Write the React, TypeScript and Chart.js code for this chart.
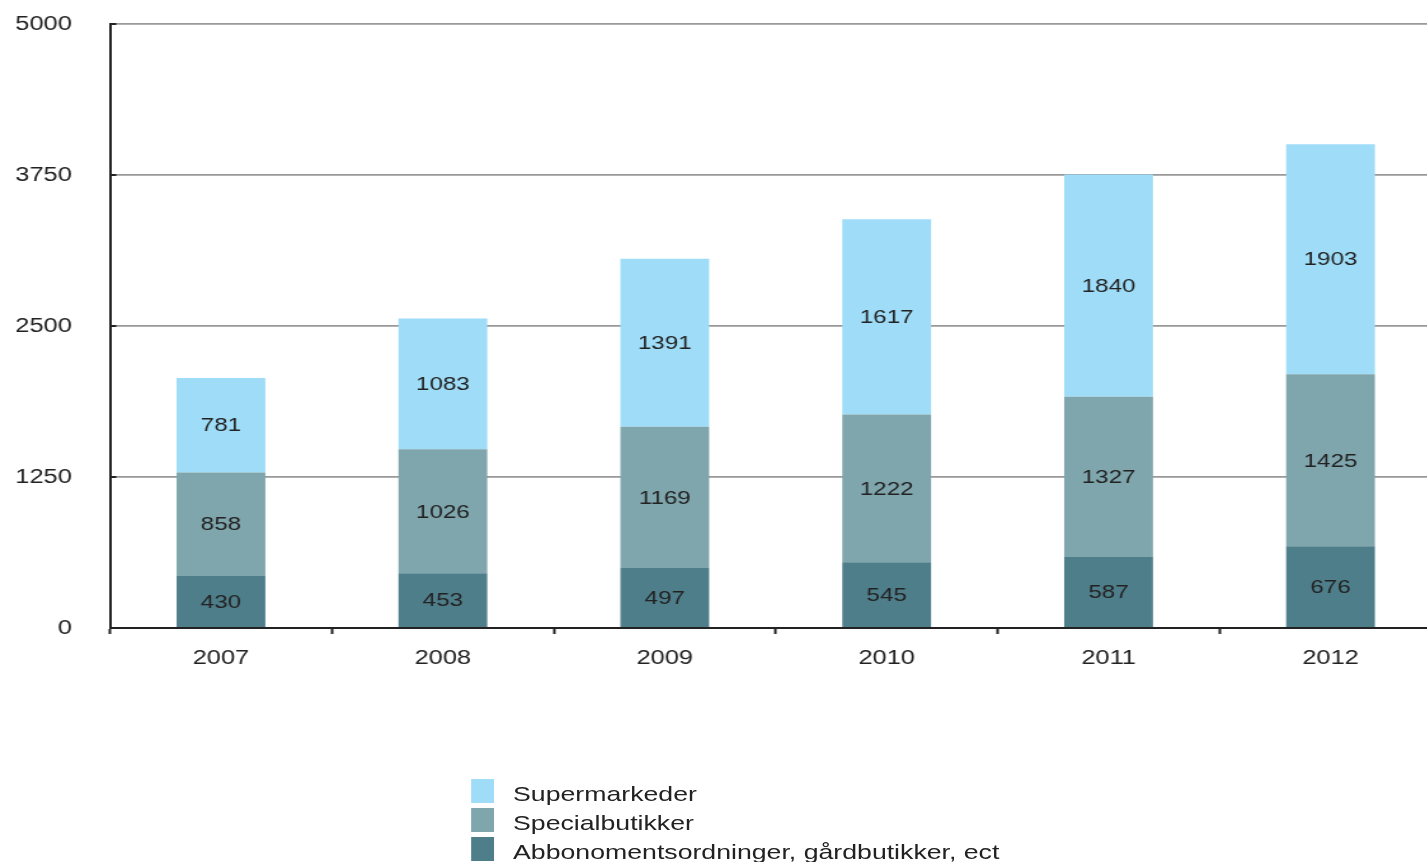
import React, { useEffect, useRef } from 'react';
import { Chart, registerables } from 'chart.js';

Chart.register(...registerables);

// ---- data ----
const categories = ['2007', '2008', '2009', '2010', '2011', '2012'];
const abonnementValues = [430, 453, 497, 545, 587, 676];
const specialValues = [858, 1026, 1169, 1222, 1327, 1425];
const supermarkedValues = [781, 1083, 1391, 1617, 1840, 1903];
const seriesNames = ['Abbonomentsordninger, gårdbutikker, ect', 'Specialbutikker', 'Supermarkeder'];
const seriesColors = ['#4f7e8b', '#7fa5ad', '#9edcf7'];
const yMin = 0;
const yMax = 5000;
const yStep = 1250;

// ---- layout (logical canvas is stretched horizontally like the reference) ----
const STRETCH = 1.27;
const CANVAS_W = 1135;
const CANVAS_H = 862;
const FONT = '"Liberation Sans", Arial, Helvetica, sans-serif';

const valueLabels = {
  id: 'valueLabels',
  afterDatasetsDraw(chart: any) {
    const ctx = chart.ctx;
    ctx.save();
    ctx.font = `19px ${FONT}`;
    ctx.fillStyle = '#222';
    ctx.textAlign = 'center';
    ctx.textBaseline = 'middle';
    chart.data.datasets.forEach((ds: any, i: number) => {
      const meta = chart.getDatasetMeta(i);
      meta.data.forEach((el: any, j: number) => {
        const { x, y, base } = el.getProps(['x', 'y', 'base'], true);
        ctx.fillText(String(ds.data[j]), x, (y + base) / 2 + 1);
      });
    });
    ctx.restore();
  },
};

const inwardTicks = {
  id: 'inwardTicks',
  afterDraw(chart: any) {
    const ys = chart.scales.y;
    const ctx = chart.ctx;
    ctx.save();
    ctx.strokeStyle = '#222';
    ctx.lineWidth = 2;
    ys.ticks.forEach((t: any) => {
      const py = ys.getPixelForValue(t.value);
      ctx.beginPath();
      ctx.moveTo(chart.chartArea.left, py);
      ctx.lineTo(chart.chartArea.left + 5, py);
      ctx.stroke();
    });
    ctx.restore();
  },
};

export default function App() {
  const ref = useRef<HTMLCanvasElement | null>(null);

  useEffect(() => {
    if (!ref.current) return;
    const seriesValues = [abonnementValues, specialValues, supermarkedValues];
    const chart = new Chart(ref.current, {
      type: 'bar',
      data: {
        labels: categories,
        datasets: seriesValues.map((vals, i) => ({
          label: seriesNames[i],
          data: vals,
          backgroundColor: seriesColors[i],
          borderWidth: 0,
          categoryPercentage: 1,
          barPercentage: 0.4,
        })),
      },
      options: {
        responsive: false,
        animation: false,
        devicePixelRatio: 1,
        layout: { padding: { top: 24, left: 0, right: 0, bottom: 180 } },
        plugins: {
          legend: { display: false },
          tooltip: { enabled: false },
        },
        scales: {
          x: {
            stacked: true,
            offset: true,
            afterFit: (s: any) => { s.height = 54; },
            grid: {
              offset: true,
              drawOnChartArea: false,
              drawTicks: true,
              tickLength: 6,
              tickColor: '#222',
              tickWidth: 2,
            },
            border: { display: true, color: '#222', width: 2 },
            ticks: {
              color: '#222',
              font: { family: FONT, size: 20 },
              padding: 12,
            },
          },
          y: {
            stacked: true,
            min: yMin,
            max: yMax,
            afterFit: (s: any) => {
              s.width = 86.6;
              s.paddingTop = 0;
              s.paddingBottom = 0;
            },
            grid: {
              color: '#999999',
              lineWidth: 1.8,
              drawTicks: false,
            },
            border: { display: true, color: '#222', width: 2 },
            ticks: {
              stepSize: yStep,
              color: '#222',
              font: { family: FONT, size: 20 },
              padding: 30,
              callback: (v: any) => String(v),
            },
          },
        },
      },
      plugins: [valueLabels, inwardTicks],
    });
    return () => chart.destroy();
  }, []);

  const legendOrder = [2, 1, 0];

  return (
    <div
      style={{
        position: 'fixed',
        left: 0,
        top: 0,
        width: 1427,
        height: 862,
        overflow: 'hidden',
        background: '#fff',
      }}
    >
      <div
        style={{
          position: 'relative',
          width: CANVAS_W,
          height: CANVAS_H,
          transform: `scaleX(${STRETCH})`,
          transformOrigin: '0 0',
        }}
      >
        <canvas ref={ref} width={CANVAS_W} height={CANVAS_H} style={{ display: 'block' }} />
        <div
          style={{
            position: 'absolute',
            left: 371.4,
            top: 779,
            fontFamily: FONT,
            fontSize: 21,
            color: '#222',
          }}
        >
          {legendOrder.map((i) => (
            <div key={i} style={{ display: 'flex', alignItems: 'flex-start', height: 29 }}>
              <span
                style={{
                  display: 'inline-block',
                  width: 18.1,
                  height: 24,
                  background: seriesColors[i],
                  marginRight: 14.5,
                  flexShrink: 0,
                }}
              />
              <span style={{ lineHeight: '24px', whiteSpace: 'nowrap', position: 'relative', top: 3 }}>
                {seriesNames[i]}
              </span>
            </div>
          ))}
        </div>
      </div>
    </div>
  );
}
